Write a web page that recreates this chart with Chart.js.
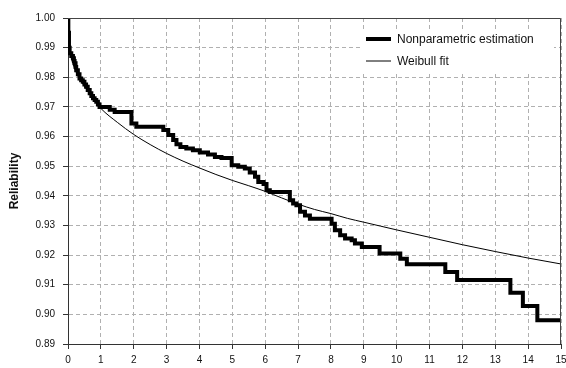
<!DOCTYPE html>
<html><head><meta charset="utf-8">
<script src="https://cdn.jsdelivr.net/npm/chart.js@4.4.1/dist/chart.umd.min.js"></script>
<style>html,body{margin:0;padding:0;background:#fff}#wrap{width:566px;height:368px}</style>
</head><body><div id="wrap"><canvas id="c" width="566" height="368"></canvas></div>
<script>
const seriesNames = ['Nonparametric estimation', 'Weibull fit'];
const axisTitleY = 'Reliability';

// Nonparametric (step) estimate: time of each drop and the value after it
const npTimes = [0, 0.01, 0.03, 0.05, 0.10, 0.15, 0.18, 0.20, 0.23, 0.25, 0.30, 0.35, 0.40, 0.45, 0.50,
  0.55, 0.60, 0.66, 0.71, 0.76, 0.81, 0.86, 0.91, 0.96, 1.27, 1.42, 1.93, 2.08, 2.90, 3.05, 3.20,
  3.30, 3.42, 3.60, 3.80, 4.01, 4.26, 4.47, 4.67, 4.98, 5.18, 5.38, 5.53, 5.69, 5.79, 5.95, 6.04,
  6.14, 6.75, 6.85, 6.95, 7.06, 7.21, 7.36, 8.02, 8.12, 8.28, 8.43, 8.63, 8.73, 8.94, 9.48, 10.11,
  10.31, 11.48, 11.84, 13.46, 13.84, 14.28, 15.0];
const npValues = [1.0, 0.995, 0.990, 0.9881, 0.9872, 0.9864, 0.9855, 0.9847, 0.9835, 0.9824, 0.9810, 0.9796, 0.9790, 0.9785, 0.9776,
  0.9768, 0.9757, 0.9746, 0.9737, 0.9729, 0.9723, 0.9717, 0.9708, 0.9700, 0.9690, 0.9683, 0.9644, 0.9633, 0.9622, 0.9605, 0.9588,
  0.9574, 0.9565, 0.9560, 0.9554, 0.9546, 0.9539, 0.9531, 0.9528, 0.9503, 0.9498, 0.9492, 0.9479, 0.9464, 0.9447, 0.9440, 0.9419,
  0.9413, 0.9385, 0.9374, 0.9368, 0.9346, 0.9334, 0.9323, 0.9306, 0.9284, 0.9267, 0.9256, 0.9250, 0.9239, 0.9227, 0.9205, 0.9188,
  0.9169, 0.9143, 0.9116, 0.9073, 0.9028, 0.8980, 0.8980];

// Weibull fit curve
const wbTimes = [0, 0.02, 0.05, 0.1, 0.2, 0.35, 0.5, 0.75, 1.0, 1.5, 2.0, 2.5, 3.0, 3.5, 4.0, 4.5, 5.0, 5.5,
  6.0, 6.5, 7.0, 7.5, 8.0, 8.5, 9.0, 9.5, 10, 11, 12, 13, 14, 15];
const wbValues = [1.0, 0.993, 0.989, 0.9865, 0.983, 0.9795, 0.977, 0.973, 0.9695, 0.9648, 0.9607, 0.9573, 0.9543, 0.9517, 0.9494, 0.9472, 0.9452, 0.9434,
  0.9415, 0.9393, 0.9372, 0.9354, 0.9340, 0.9324, 0.9311, 0.9298, 0.9285, 0.9260, 0.9235, 0.9212, 0.9190, 0.9170];

const xMin = 0, xMax = 15, xStep = 1;
const yMin = 0.89, yMax = 1.00, yStep = 0.01;

const FONT = '"Liberation Sans", Arial, Helvetica, sans-serif';

const framePlugin = {
  id: 'frameAndLegend',
  afterDraw(chart) {
    const {ctx, chartArea: a} = chart;
    ctx.save();
    ctx.setLineDash([]);
    ctx.strokeStyle = '#444';
    ctx.lineWidth = 1;
    ctx.beginPath();
    ctx.moveTo(a.left, a.top + 0.5);
    ctx.lineTo(a.right - 0.5, a.top + 0.5);
    ctx.lineTo(a.right - 0.5, a.bottom);
    ctx.stroke();
    // legend box
    const lx = a.right - 199, ly = a.top + 11;
    ctx.fillStyle = '#fff';
    ctx.fillRect(lx, ly, 192, 45);
    chart.data.datasets.forEach((ds, i) => {
      const y = a.top + 21 + i * 22;
      ctx.strokeStyle = ds.borderColor;
      ctx.lineWidth = ds.borderWidth;
      ctx.beginPath();
      ctx.moveTo(lx + 4, y);
      ctx.lineTo(lx + 29, y);
      ctx.stroke();
      ctx.fillStyle = '#111';
      ctx.font = '12px ' + FONT;
      ctx.textBaseline = 'middle';
      ctx.textAlign = 'left';
      ctx.fillText(ds.label, lx + 35, y + 1);
    });
    ctx.restore();
  }
};

new Chart(document.getElementById('c'), {
  type: 'line',
  data: {
    datasets: [
      {
        label: seriesNames[0],
        data: npTimes.map((t, i) => ({x: t, y: npValues[i]})),
        borderColor: '#000',
        borderWidth: 4,
        stepped: true,
        borderJoinStyle: 'miter',
        pointRadius: 0,
        fill: false
      },
      {
        label: seriesNames[1],
        data: wbTimes.map((t, i) => ({x: t, y: wbValues[i]})),
        borderColor: '#000',
        borderWidth: 1,
        cubicInterpolationMode: 'monotone',
        pointRadius: 0,
        fill: false
      }
    ]
  },
  options: {
    responsive: false,
    devicePixelRatio: 1,
    animation: false,
    layout: {padding: {top: 18, right: 5, left: 0, bottom: 0}},
    plugins: {legend: {display: false}, tooltip: {enabled: false}},
    scales: {
      x: {
        type: 'linear', min: xMin, max: xMax,
        ticks: {stepSize: xStep, color: '#111', font: {size: 10, family: FONT}, padding: 5, maxRotation: 0},
        grid: {color: '#b0b0b0', lineWidth: 1, tickLength: 5, tickColor: '#333', tickBorderDash: []},
        border: {display: true, color: '#333', width: 1, dash: [4, 3]},
        afterFit(s) { s.height = 24; s.paddingLeft = 0; s.paddingRight = 0; }
      },
      y: {
        type: 'linear', min: yMin, max: yMax,
        ticks: {stepSize: yStep, color: '#111', font: {size: 10, family: FONT}, padding: 8,
          callback: v => Number(v).toFixed(2)},
        grid: {color: '#b0b0b0', lineWidth: 1, tickLength: 5, tickColor: '#333', tickBorderDash: []},
        border: {display: true, color: '#333', width: 1, dash: [4, 3]},
        title: {display: true, text: axisTitleY, color: '#111', font: {size: 12, weight: 'bold', family: FONT}, padding: {top: 7, bottom: 0}},
        afterFit(s) { s.width = 68; s.paddingTop = 0; s.paddingBottom = 0; }
      }
    }
  },
  plugins: [framePlugin]
});
</script>
</body></html>
